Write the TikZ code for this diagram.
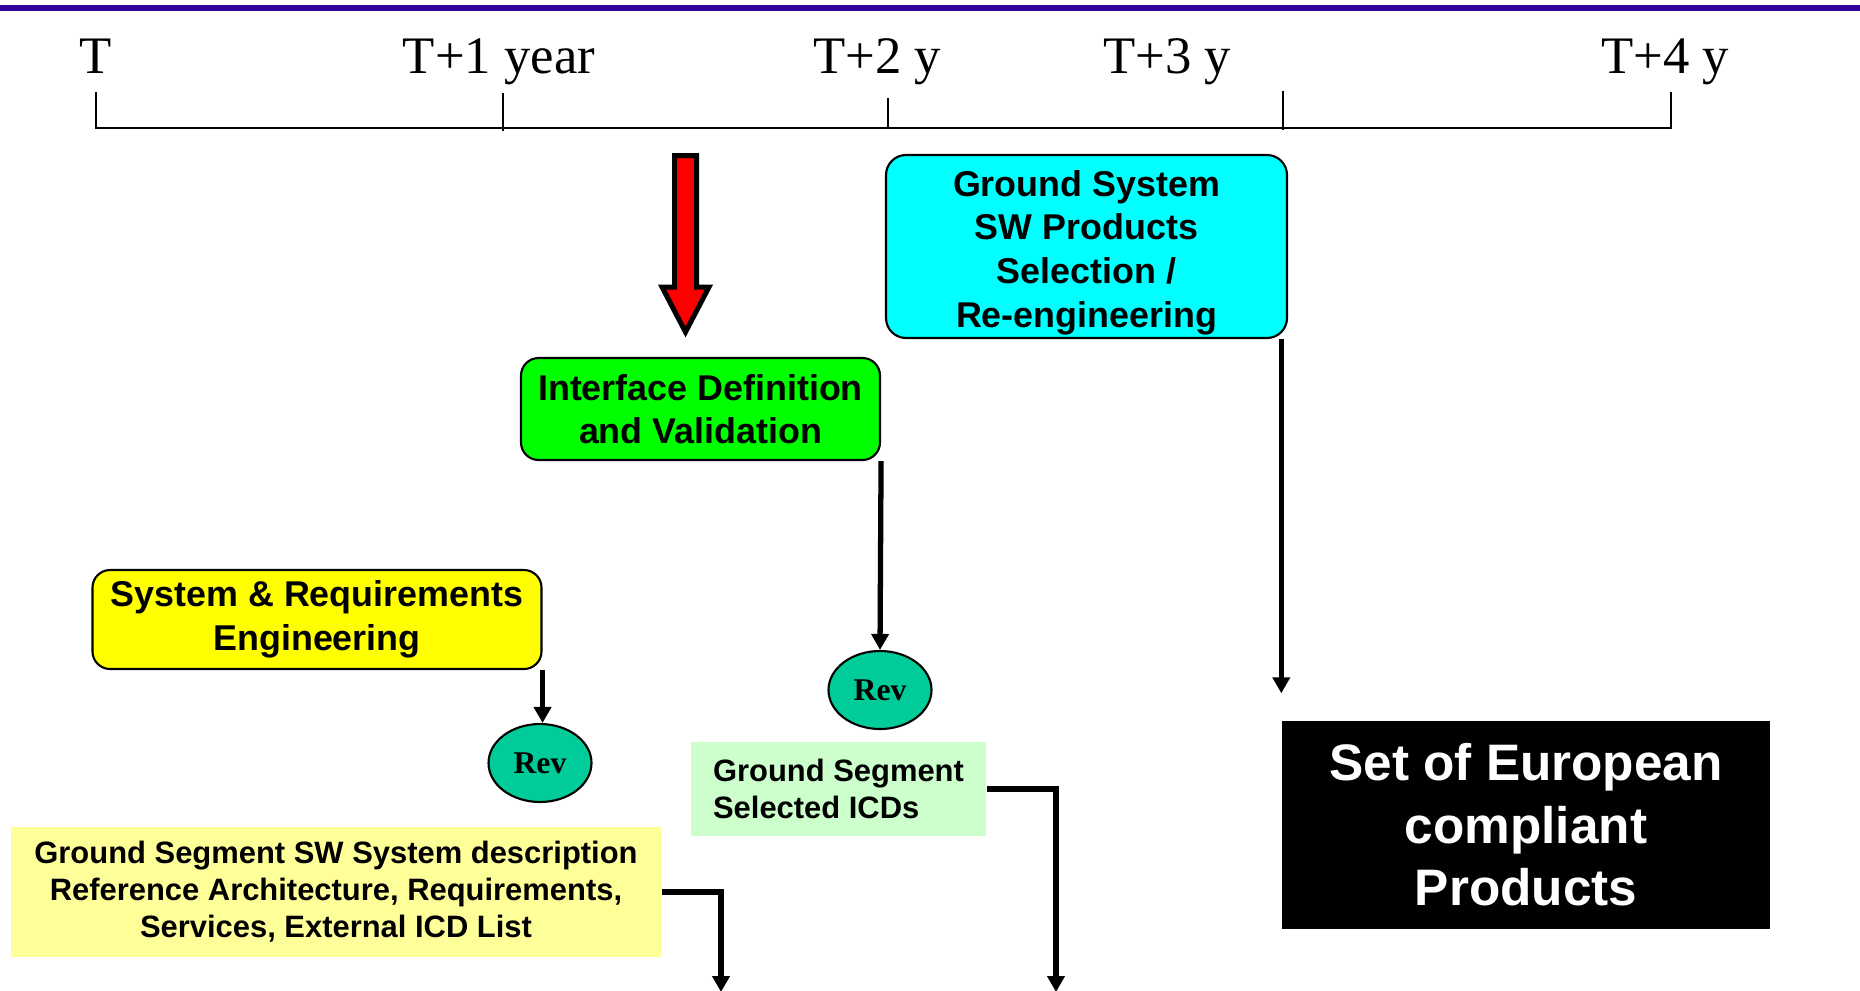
\documentclass[tikz,border=0pt]{standalone}
\usepackage{fontspec}
\setmainfont{Liberation Serif}
\setsansfont{Liberation Sans}
\usepackage{tikz}
\usetikzlibrary{positioning,calc,arrows.meta,shapes.geometric}
\definecolor{titlebar}{HTML}{330099}
\definecolor{revgreen}{HTML}{00CC99}
\definecolor{paleyellow}{HTML}{FFFF99}
\definecolor{palegreen}{HTML}{CCFFCC}
\definecolor{boxcyan}{HTML}{00FFFF}
\definecolor{boxgreen}{HTML}{00FF00}
\definecolor{boxyellow}{HTML}{FFFF00}
\definecolor{arrowred}{HTML}{FF0000}

\begin{document}
\begin{tikzpicture}[phase/.style={draw=black, line width=0.6pt, rounded corners=5pt, inner sep=0pt, align=center, font=\fontsize{10.2}{12.4}\selectfont\sffamily\bfseries}, review/.style={ellipse, draw=black, line width=0.6pt, fill=revgreen, minimum width=1.03cm, minimum height=0.78cm, inner sep=0pt, font=\fontsize{9}{10}\selectfont\bfseries}, output/.style={inner sep=0pt, align=center, font=\fontsize{8.8}{10.5}\selectfont\sffamily\bfseries}, year/.style={anchor=base, inner sep=0pt, font=\fontsize{15}{18}\selectfont}, arrow/.style={-{Triangle[length=0.16cm,width=0.17cm]}, line width=1.5pt}]
\useasboundingbox (0,0) rectangle (18.6,-9.9);
\draw[titlebar, line width=0.06cm] (0,-0.08) -- (18.6,-0.08);
\draw[line width=0.8pt] (0.96,-0.92) -- (0.96,-1.28) -- (16.71,-1.28) -- (16.71,-0.92);
\draw[line width=0.8pt] (5.03,-0.93) -- (5.03,-1.31);
\draw[line width=0.8pt] (8.88,-0.98) -- (8.88,-1.28);
\draw[line width=0.8pt] (12.83,-0.91) -- (12.83,-1.30);
\node[year] (t0) at (0.96,-0.73) {T};
\node[year] (t1) at (4.99,-0.73) {T+1 year};
\node[year] (t2) at (8.77,-0.73) {T+2 y};
\node[year] (t3) at (11.67,-0.73) {T+3 y};
\node[year] (t4) at (16.65,-0.73) {T+4 y};
\draw[fill=arrowred, line width=0.05cm, line join=miter] (6.745,-1.555) -- (6.965,-1.555) -- (6.965,-2.87) -- (7.09,-2.87) -- (6.855,-3.32) -- (6.62,-2.87) -- (6.745,-2.87) -- cycle;
\node[phase, fill=boxcyan, minimum width=4.01cm, minimum height=1.83cm, rounded corners=0.2cm] (gss) at (10.865,-2.465) {\rule{0pt}{0.38cm}Ground System\\SW Products\\Selection /\\Re-engineering};
\node[phase, fill=boxgreen, minimum width=3.59cm, minimum height=1.02cm] (ifd) at (7.005,-4.09) {Interface Definition\\and Validation};
\node[phase, fill=boxyellow, minimum width=4.49cm, minimum height=0.99cm] (sre) at (3.17,-6.195) {System \& Requirements\\Engineering};
\node[review] (rev1) at (5.40,-7.63) {Rev};
\node[review] (rev2) at (8.80,-6.90) {Rev};
\node[output, fill=paleyellow, minimum width=6.50cm, minimum height=1.30cm] (gsd) at (3.36,-8.92) {Ground Segment SW System description\\Reference Architecture, Requirements,\\Services, External ICD List};
\node[output, fill=palegreen, align=left, minimum width=2.95cm, minimum height=0.94cm] (icd) at (8.385,-7.89) {Ground Segment\\Selected ICDs};
\node[fill=black, text=white, inner sep=0pt, align=center, minimum width=4.88cm, minimum height=2.08cm, font=\fontsize{14.6}{17.8}\selectfont\sffamily\bfseries] (prod) at (15.26,-8.25) {Set of European\\compliant\\Products};
\coordinate (gsdend) at (7.21,-9.92);
\coordinate (icdend) at (10.56,-9.92);
\draw[arrow] (sre.south east) -- (sre.south east |- rev1.north);
\draw[arrow] (ifd.south east) -- (rev2.north);
\draw[arrow, shorten >=0.27cm] (gss.south east -| prod.west) -- (prod.north west);
\draw[arrow] (gsd.east) -| (gsdend);
\draw[arrow] (icd.east) -| (icdend);
\end{tikzpicture}
\end{document}
